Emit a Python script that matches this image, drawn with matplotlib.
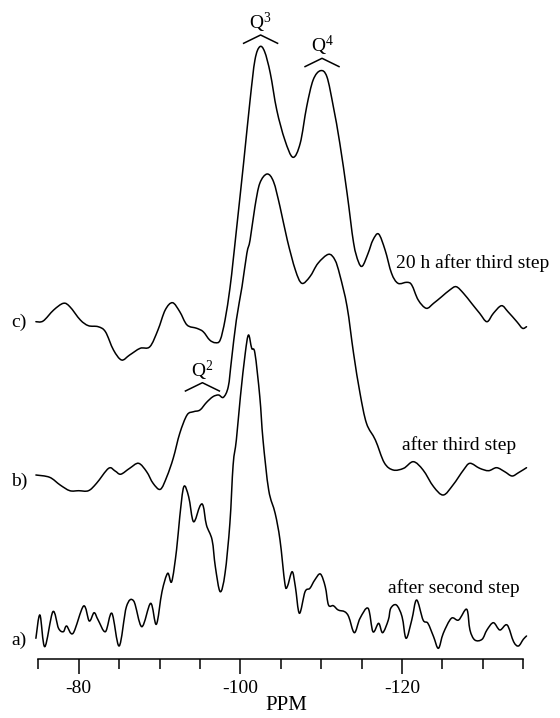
import matplotlib
matplotlib.use("Agg")
import matplotlib.pyplot as plt
from matplotlib.path import Path
from matplotlib.patches import PathPatch
from matplotlib.ticker import FixedLocator, MultipleLocator, FixedFormatter

plt.rcParams['font.family'] = ['Liberation Serif', 'DejaVu Serif']
plt.rcParams['mathtext.default'] = 'regular'
plt.rcParams['axes.unicode_minus'] = False

# ---- spectrum a) after second step ----
ppm_a = [-74.7, -75.2, -75.8, -76.8, -77.5, -78.1, -78.5, -79.3, -80.6, -81.3,
         -81.9, -82.4, -83.3, -84.1, -85.0, -85.9, -86.8, -87.8, -88.9, -89.6,
         -90.3, -91.0, -91.5, -92.1, -92.5, -93.0, -93.6, -94.2, -95.0, -95.4,
         -95.8, -96.5, -96.9, -97.5, -98.1, -98.7, -99.1, -99.5, -100.0, -100.6,
         -101.0, -101.4, -101.8, -102.4, -102.8, -103.5, -104.3, -104.9, -105.5, -105.8,
         -106.4, -106.8, -107.3, -108.0, -108.6, -109.2, -109.9, -110.5, -110.9, -111.5,
         -112.1, -112.9, -113.4, -114.1, -114.8, -115.8, -116.4, -117.1, -117.6, -118.3,
         -118.6, -119.3, -120.0, -120.5, -121.2, -121.8, -122.6, -123.2, -123.9, -124.5,
         -125.1, -126.1, -127.0, -128.0, -128.4, -129.0, -129.9, -130.5, -131.3, -132.1,
         -133.0, -133.8, -134.4, -135.0, -135.4]
int_a = [1.7, 25, -6.7, 28.3, 11.7, 8.3, 14.0, 6.7, 34.0, 19.0,
         27.3, 20.0, 8.3, 26.7, -6.0, 33.3, 39.0, 13.3, 36.7, 15.7,
         48.3, 66.7, 58.3, 90.0, 123.3, 153.3, 143.3, 118.3, 134, 134,
         115, 100, 73.3, 48.3, 66.7, 116.7, 175, 200, 243.3, 286.7,
         305, 291.7, 286.7, 243.3, 200, 150, 126.7, 100, 56.7, 53.3,
         68.3, 53.3, 26.7, 48.3, 51.7, 60, 66, 53.3, 35, 34.3,
         30, 28.3, 23.3, 7.3, 21.7, 31.7, 8.3, 16.7, 7.3, 20,
         31.7, 35, 23.3, 1.7, 20, 40, 20, 16.7, 3.3, -8.3,
         6.7, 21.7, 20, 30.7, 10, 0, 0.7, 10, 17.3, 10,
         15, -1.7, -6, 0.7, 4]

# ---- spectrum b) after third step ----
ppm_b = [-74.7, -76.4, -77.7, -78.9, -80.0, -81.2, -82.2, -83.7, -84.5, -85.2,
         -86.3, -87.4, -88.4, -89.2, -90.1, -90.9, -91.7, -92.5, -93.4, -94.2,
         -95.0, -95.8, -96.6, -97.3, -97.9, -98.5, -98.9, -99.5, -100.2, -100.8,
         -101.2, -101.8, -102.4, -103.3, -104.1, -104.9, -105.8, -106.8, -107.6, -108.6,
         -109.6, -110.9, -111.7, -112.3, -113.2, -114.0, -114.8, -115.6, -116.7, -117.8,
         -118.9, -120.2, -121.4, -122.6, -123.9, -125.1, -126.3, -127.6, -128.4, -129.6,
         -130.7, -131.7, -132.7, -133.6, -134.4, -135.4]
int_b = [6.7, 4.4, -3.3, -9.0, -9.0, -9.0, -1.6, 13.4, 10.7, 7.5,
         13.4, 18.4, 10.0, -1.6, -7.6, 5.0, 23.7, 48.4, 66.7, 70.0,
         71.7, 79.2, 85.0, 86.7, 84.4, 95.0, 121.7, 161.7, 195.0, 228.4,
         241.7, 275.0, 298.4, 307.7, 300.0, 275.0, 241.7, 211.7, 198.4, 205.0,
         218.4, 227.4, 221.7, 206.7, 175.0, 128.4, 88.4, 58.4, 41.7, 19.0,
         11.7, 13.4, 20.0, 11.7, -5.0, -13.3, -3.3, 11.7, 18.4, 13.4,
         11.0, 14.0, 10.0, 5.7, 9.0, 14.0]

# ---- spectrum c) 20 h after third step ----
ppm_c = [-74.7, -75.6, -76.9, -78.1, -78.9, -80.2, -81.2, -82.4, -83.3, -84.3,
         -85.3, -86.3, -87.6, -88.8, -89.8, -90.7, -91.6, -92.5, -93.4, -94.6,
         -95.4, -96.2, -96.9, -97.5, -98.1, -98.7, -99.1, -99.5, -100.4, -101.2,
         -101.8, -102.4, -103.0, -103.7, -104.5, -105.5, -106.5, -107.4, -108.2, -109.0,
         -109.9, -110.7, -111.5, -112.3, -113.2, -114.0, -114.6, -115.1, -115.8, -116.4,
         -117.1, -117.9, -118.7, -119.5, -120.6, -121.2, -122.0, -123.0, -123.9, -124.9,
         -125.9, -126.7, -127.6, -128.6, -129.6, -130.5, -131.3, -132.3, -133.1, -134.2,
         -134.9, -135.4]
int_c = [1.0, 1.7, 12.7, 19.4, 16.0, 2.7, -3.0, -4.0, -9.0, -27.3,
         -37.3, -32.3, -25.6, -24.0, -7.3, 12.7, 20.0, 11.0, -2.3, -5.6,
         -9.0, -17.3, -20.0, -17.3, 2.7, 34.0, 62.0, 92.0, 160.0, 222.7,
         262.7, 276.0, 271.0, 249.4, 212.7, 182.7, 165.4, 179.4, 216.0, 242.7,
         252.0, 246.0, 216.0, 179.4, 129.4, 80.0, 61.0, 56.7, 69.4, 82.7,
         88.7, 72.7, 49.4, 39.4, 40.4, 37.7, 22.7, 14.4, 19.4, 26.0,
         32.7, 36.0, 29.4, 19.4, 9.4, 1.0, 9.4, 17.0, 11.0, 1.0,
         -5.6, -4.0]

spectra = [(ppm_a, int_a), (ppm_b, int_b), (ppm_c, int_c)]
trace_labels = ['a)', 'b)', 'c)']
captions = ['after second step', 'after third step', '20 h after third step']

peak_names = ['Q$^{2}$', 'Q$^{3}$', 'Q$^{4}$']
peak_ppm = [-95.3, -102.5, -110.1]

major_ticks = [-80, -100, -120]
major_labels = ['-80', '-100', '-120']


def smooth_path(xs, ys):
    """Catmull-Rom style Bezier path through the given points (drawing only)."""
    pts = list(zip(xs, ys))
    n = len(pts)
    verts = [pts[0]]
    codes = [Path.MOVETO]
    for i in range(n - 1):
        p0 = pts[i - 1] if i > 0 else pts[i]
        p1 = pts[i]
        p2 = pts[i + 1]
        p3 = pts[i + 2] if i + 2 < n else pts[i + 1]
        c1 = (p1[0] + (p2[0] - p0[0]) / 6.0, p1[1] + (p2[1] - p0[1]) / 6.0)
        c2 = (p2[0] - (p3[0] - p1[0]) / 6.0, p2[1] - (p3[1] - p1[1]) / 6.0)
        verts += [c1, c2, p2]
        codes += [Path.CURVE4] * 3
    return Path(verts, codes)


# ---- layout ----
fig = plt.figure(figsize=(5.6, 7.18), dpi=100)
ax = fig.add_axes([0, 0, 1, 1])
ax.set_xlim(-70.26, -139.54)
ax.set_ylim(-59, 659)

offsets = [19, 177.3, 336.3]
caption_pos = [(-118.3, 70.7), (-120.0, 214.0), (-119.3, 396.3)]
peak_y = [276.3, 624.0, 600.7]

for (x, y), off, lab, cap, cpos in zip(spectra, offsets, trace_labels, captions, caption_pos):
    path = smooth_path(x, [v + off for v in y])
    ax.add_patch(PathPatch(path, facecolor='none', edgecolor='black', lw=1.1,
                           clip_on=False, joinstyle='round', capstyle='round'))
    ax.text(-73.6, off, lab, ha='right', va='center', fontsize=14)
    ax.text(cpos[0], cpos[1], cap, ha='left', va='center', fontsize=14)

for name, p, py in zip(peak_names, peak_ppm, peak_y):
    ax.plot([p + 2.1, p, p - 2.1], [py - 8.3, py, py - 8.3], color='black', lw=1.1)
    ax.text(p, py + 12, name, ha='center', va='center', fontsize=14)

for s in ['left', 'right', 'top']:
    ax.spines[s].set_visible(False)
ax.spines['bottom'].set_position(('data', 0))
ax.spines['bottom'].set_bounds(-75, -135)
ax.spines['bottom'].set_linewidth(1.1)
ax.yaxis.set_visible(False)

ax.xaxis.set_major_locator(FixedLocator(major_ticks))
ax.xaxis.set_major_formatter(FixedFormatter(major_labels))
ax.xaxis.set_minor_locator(MultipleLocator(5))
ax.tick_params(axis='x', which='major', direction='out', length=11, width=1.1,
               pad=4, labelsize=14)
ax.tick_params(axis='x', which='minor', direction='out', length=7, width=1.1)
ax.set_xlabel('PPM', fontsize=15, va='baseline')
ax.xaxis.set_label_coords(0.511, 0.011)

fig.savefig('out.png', dpi=100)
